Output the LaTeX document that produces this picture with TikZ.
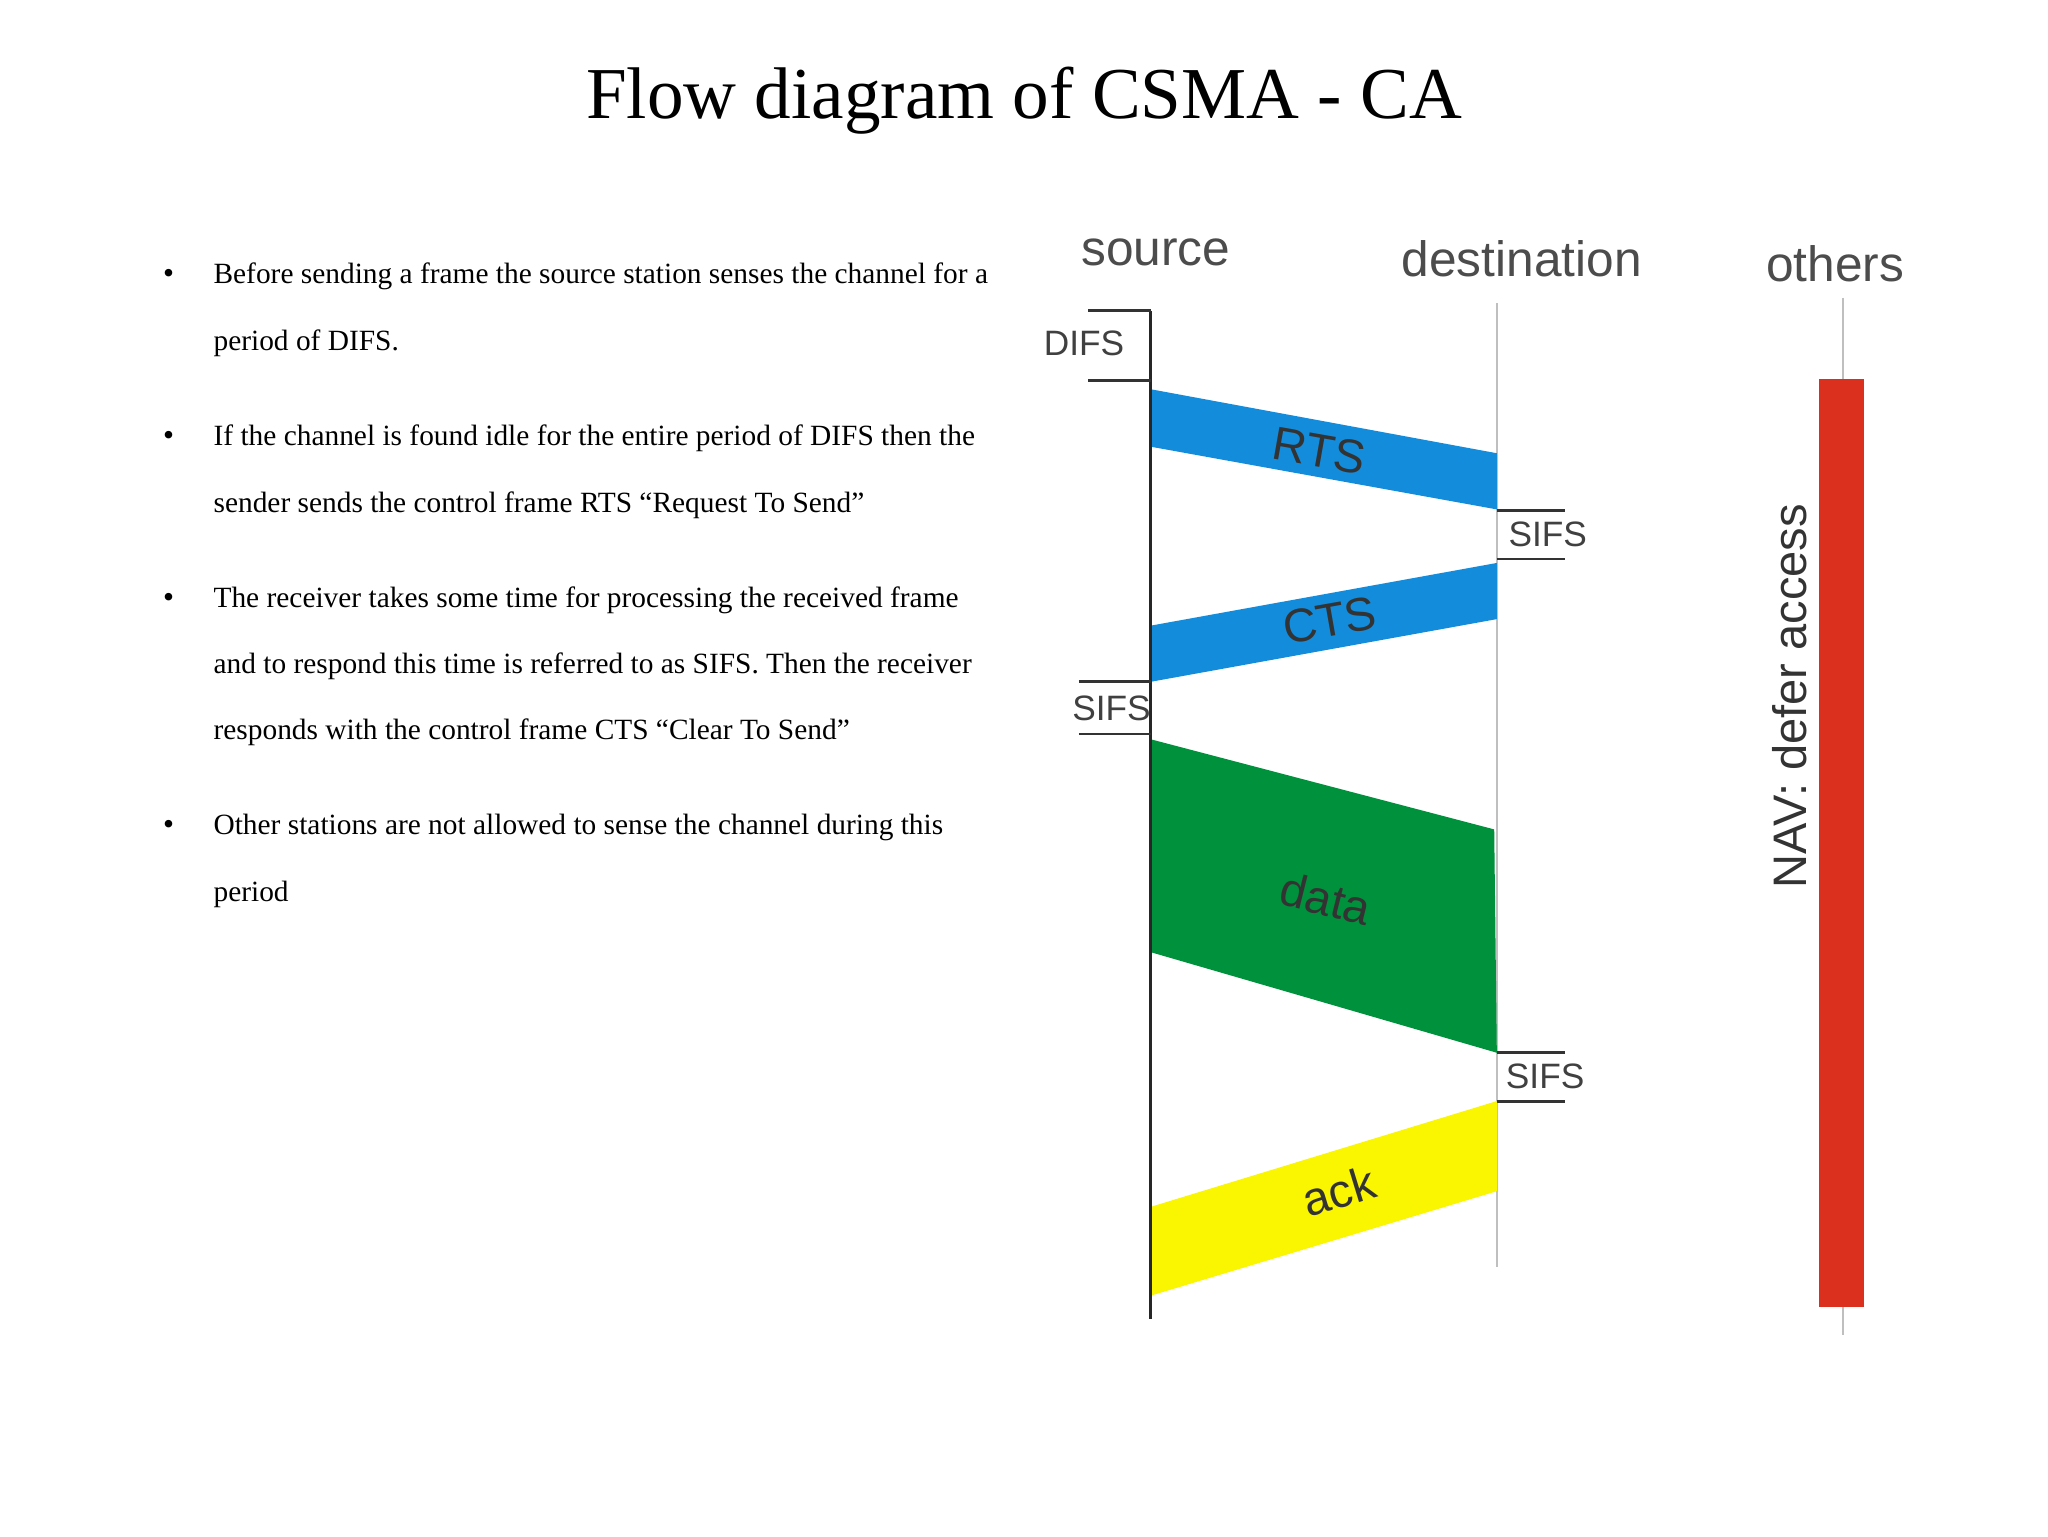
\documentclass[tikz,border=0pt]{standalone}
\usepackage{fontspec}
\setmainfont{Liberation Serif}
\setsansfont{Liberation Sans}
\definecolor{fblue}{RGB}{20,140,220}
\definecolor{fgreen}{RGB}{0,145,60}
\definecolor{fyellow}{RGB}{250,245,0}
\definecolor{fred}{RGB}{220,48,30}
\begin{document}
\begin{tikzpicture}[x=1pt,y=-1pt,
  hdr/.style={font=\sffamily\fontsize{38}{40}\selectfont,text=black!70},
  lbl/.style={font=\sffamily\fontsize{27}{29}\selectfont,text=black!75},
  frm/.style={font=\sffamily\fontsize{36}{38}\selectfont,text=black!80},
  bul/.style={anchor=base west,font=\fontsize{22.5}{24}\selectfont},
  dot/.style={anchor=base,font=\fontsize{24}{24}\selectfont},
  br/.style={black!80,line width=2.2pt}]
\useasboundingbox (0,0) rectangle (1568,1176);
\fill[white] (0,0) rectangle (1568,1176);
\node[font=\fontsize{56}{60}\selectfont] (title) at (784,77) {Flow diagram of CSMA - CA};
% bullets
\foreach \y/\t in {217/{Before sending a frame the source station senses the channel for a},
  268/{period of DIFS.},
  341/{If the channel is found idle for the entire period of DIFS then the},
  392/{sender sends the control frame RTS “Request To Send”},
  465/{The receiver takes some time for processing the received frame},
  516/{and to respond this time is referred to as SIFS. Then the receiver},
  566/{responds with the control frame CTS “Clear To  Send”},
  639/{Other stations are not allowed to sense the channel during this},
  690/{period}}
  \node[bul] at (160,\y) {\t};
\foreach \y in {217,341,465,639} \node[dot] at (129,\y) {•};
% headers
\node[hdr] (src) at (885,193) {source};
\node[hdr] (dst) at (1165,198) {destination};
\node[hdr] (oth) at (1405,202) {others};
% lines
\draw[black!25,line width=1.5pt] (1146,232) -- (1146,970);
\draw[black!25,line width=1.5pt] (1411,228) -- (1411,1022);
% frames
\fill[fblue] (881,298) -- (1146,347) -- (1146,390) -- (881,342) -- cycle;
\fill[fblue] (1146,431) -- (1146,474) -- (881,522) -- (881,479) -- cycle;
\fill[fgreen] (881,566) -- (1144,635) -- (1146,806) -- (881,729) -- cycle;
\fill[fyellow] (1146,843) -- (1146,912) -- (881,992) -- (881,924) -- cycle;
\draw[black!85,line width=2.2pt] (881,238) -- (881,1010);
\node[frm,rotate=-10] (rts) at (1010,345) {RTS};
\node[frm,rotate=10] (cts) at (1018,475) {CTS};
\node[frm,rotate=-14] (data) at (1015,688) {data};
\node[frm,rotate=17] (ack) at (1025,912) {ack};
% brackets
\draw[br] (833,238) -- (881,238); \draw[br] (833,291) -- (881,291);
\node[lbl] (difs) at (830,263) {DIFS};
\draw[br] (1146,391) -- (1198,391); \draw[br] (1146,428) -- (1198,428);
\node[lbl] (s1) at (1185,409) {SIFS};
\draw[br] (826,522) -- (881,522); \draw[br] (826,562) -- (881,562);
\node[lbl] (s2) at (851,542) {SIFS};
\draw[br] (1146,806) -- (1198,806); \draw[br] (1146,843) -- (1198,843);
\node[lbl] (s3) at (1183,824) {SIFS};
% NAV
\fill[fred] (1393,290) rectangle (1427,1001);
\node[frm,rotate=90] (nav) at (1370,533) {NAV: defer access};
\end{tikzpicture}
\end{document}
